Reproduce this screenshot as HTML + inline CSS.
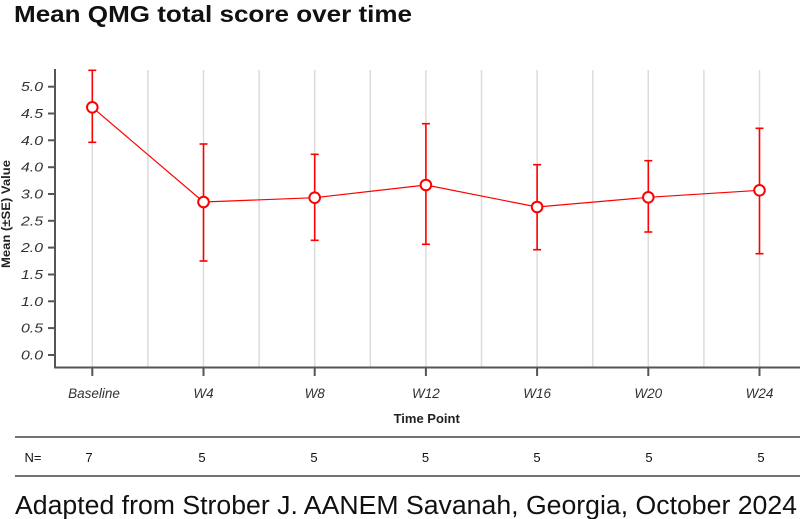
<!DOCTYPE html>
<html><head><meta charset="utf-8"><style>
html,body{margin:0;padding:0;background:#fff;}
svg{display:block;}
text{font-family:"Liberation Sans",Arial,sans-serif;}
</style></head><body>
<svg width="800" height="519" viewBox="0 0 800 519" xmlns="http://www.w3.org/2000/svg">
<text x="14" y="22" font-size="23.5" font-weight="bold" fill="#111" textLength="398" lengthAdjust="spacingAndGlyphs">Mean QMG total score over time</text>
<g stroke="#dcdcdc" stroke-width="1.5">
<line x1="92.3" y1="70" x2="92.3" y2="367"/>
<line x1="147.9" y1="70" x2="147.9" y2="367"/>
<line x1="203.5" y1="70" x2="203.5" y2="367"/>
<line x1="259.1" y1="70" x2="259.1" y2="367"/>
<line x1="314.7" y1="70" x2="314.7" y2="367"/>
<line x1="370.3" y1="70" x2="370.3" y2="367"/>
<line x1="425.9" y1="70" x2="425.9" y2="367"/>
<line x1="481.5" y1="70" x2="481.5" y2="367"/>
<line x1="537.1" y1="70" x2="537.1" y2="367"/>
<line x1="592.7" y1="70" x2="592.7" y2="367"/>
<line x1="648.3" y1="70" x2="648.3" y2="367"/>
<line x1="703.9" y1="70" x2="703.9" y2="367"/>
<line x1="759.5" y1="70" x2="759.5" y2="367"/>
</g>
<g stroke="#555" stroke-width="2" fill="none">
<line x1="55" y1="69" x2="55" y2="368"/>
<line x1="54" y1="367.5" x2="800" y2="367.5"/>
<line x1="48" y1="86.7" x2="55" y2="86.7"/>
<line x1="48" y1="113.5" x2="55" y2="113.5"/>
<line x1="48" y1="140.3" x2="55" y2="140.3"/>
<line x1="48" y1="167.2" x2="55" y2="167.2"/>
<line x1="48" y1="194" x2="55" y2="194"/>
<line x1="48" y1="220.8" x2="55" y2="220.8"/>
<line x1="48" y1="247.6" x2="55" y2="247.6"/>
<line x1="48" y1="274.5" x2="55" y2="274.5"/>
<line x1="48" y1="301.3" x2="55" y2="301.3"/>
<line x1="48" y1="328.1" x2="55" y2="328.1"/>
<line x1="48" y1="355" x2="55" y2="355"/>
<line x1="92.3" y1="367" x2="92.3" y2="376"/>
<line x1="203.5" y1="367" x2="203.5" y2="376"/>
<line x1="314.7" y1="367" x2="314.7" y2="376"/>
<line x1="425.9" y1="367" x2="425.9" y2="376"/>
<line x1="537.1" y1="367" x2="537.1" y2="376"/>
<line x1="648.3" y1="367" x2="648.3" y2="376"/>
<line x1="759.5" y1="367" x2="759.5" y2="376"/>
</g>
<g font-size="13" font-style="italic" fill="#333">
<text x="21" y="91.2" textLength="22" lengthAdjust="spacingAndGlyphs">5.0</text>
<text x="21" y="118" textLength="22" lengthAdjust="spacingAndGlyphs">4.5</text>
<text x="21" y="144.8" textLength="22" lengthAdjust="spacingAndGlyphs">4.0</text>
<text x="21" y="171.7" textLength="22" lengthAdjust="spacingAndGlyphs">4.0</text>
<text x="21" y="198.5" textLength="22" lengthAdjust="spacingAndGlyphs">3.0</text>
<text x="21" y="225.3" textLength="22" lengthAdjust="spacingAndGlyphs">2.5</text>
<text x="21" y="252.1" textLength="22" lengthAdjust="spacingAndGlyphs">2.0</text>
<text x="21" y="279" textLength="22" lengthAdjust="spacingAndGlyphs">1.5</text>
<text x="21" y="305.8" textLength="22" lengthAdjust="spacingAndGlyphs">1.0</text>
<text x="21" y="332.6" textLength="22" lengthAdjust="spacingAndGlyphs">0.5</text>
<text x="21" y="359.5" textLength="22" lengthAdjust="spacingAndGlyphs">0.0</text>
</g>
<text transform="translate(10,268) rotate(-90)" font-size="11.5" font-weight="bold" fill="#222" textLength="108" lengthAdjust="spacingAndGlyphs">Mean (±SE) Value</text>
<g font-size="13.5" font-style="italic" fill="#333" text-anchor="middle">
<text x="94" y="398">Baseline</text>
<text x="203.5" y="398">W4</text>
<text x="314.7" y="398">W8</text>
<text x="425.9" y="398">W12</text>
<text x="537.1" y="398">W16</text>
<text x="648.3" y="398">W20</text>
<text x="759.5" y="398">W24</text>
</g>
<text x="426.7" y="423" font-size="13" font-weight="bold" fill="#222" text-anchor="middle">Time Point</text>
<g stroke="#f00" stroke-width="1.6" fill="none">
<line x1="92.3" y1="70.3" x2="92.3" y2="142.3"/><line x1="88.3" y1="70.3" x2="96.3" y2="70.3"/><line x1="88.3" y1="142.3" x2="96.3" y2="142.3"/>
<line x1="203.5" y1="144" x2="203.5" y2="261"/><line x1="199.5" y1="144" x2="207.5" y2="144"/><line x1="199.5" y1="261" x2="207.5" y2="261"/>
<line x1="314.7" y1="154.3" x2="314.7" y2="240.3"/><line x1="310.7" y1="154.3" x2="318.7" y2="154.3"/><line x1="310.7" y1="240.3" x2="318.7" y2="240.3"/>
<line x1="425.9" y1="123.7" x2="425.9" y2="244.3"/><line x1="421.9" y1="123.7" x2="429.9" y2="123.7"/><line x1="421.9" y1="244.3" x2="429.9" y2="244.3"/>
<line x1="537.1" y1="164.7" x2="537.1" y2="249.7"/><line x1="533.1" y1="164.7" x2="541.1" y2="164.7"/><line x1="533.1" y1="249.7" x2="541.1" y2="249.7"/>
<line x1="648.3" y1="160.7" x2="648.3" y2="232"/><line x1="644.3" y1="160.7" x2="652.3" y2="160.7"/><line x1="644.3" y1="232" x2="652.3" y2="232"/>
<line x1="759.5" y1="128.3" x2="759.5" y2="253.7"/><line x1="755.5" y1="128.3" x2="763.5" y2="128.3"/><line x1="755.5" y1="253.7" x2="763.5" y2="253.7"/>
</g>
<polyline points="92.3,107.3 203.5,202 314.7,197.7 425.9,185 537.1,207 648.3,197.3 759.5,190.3" fill="none" stroke="#f00" stroke-width="1.2"/>
<g fill="#fff" stroke="#f00" stroke-width="2">
<circle cx="92.3" cy="107.3" r="5.3"/>
<circle cx="203.5" cy="202" r="5.3"/>
<circle cx="314.7" cy="197.7" r="5.3"/>
<circle cx="425.9" cy="185" r="5.3"/>
<circle cx="537.1" cy="207" r="5.3"/>
<circle cx="648.3" cy="197.3" r="5.3"/>
<circle cx="759.5" cy="190.3" r="5.3"/>
</g>
<g stroke="#444" stroke-width="1.5">
<line x1="15" y1="437" x2="800" y2="437"/>
<line x1="15" y1="476" x2="800" y2="476"/>
</g>
<g font-size="13" fill="#111" text-anchor="middle">
<text x="33" y="462">N=</text>
<text x="89" y="462">7</text>
<text x="202" y="462">5</text>
<text x="314" y="462">5</text>
<text x="425.5" y="462">5</text>
<text x="537" y="462">5</text>
<text x="649" y="462">5</text>
<text x="761" y="462">5</text>
</g>
<text x="15" y="514" font-size="25.5" fill="#111" textLength="782" lengthAdjust="spacingAndGlyphs">Adapted from Strober J.  AANEM Savanah, Georgia, October 2024</text>
</svg>
</body></html>
